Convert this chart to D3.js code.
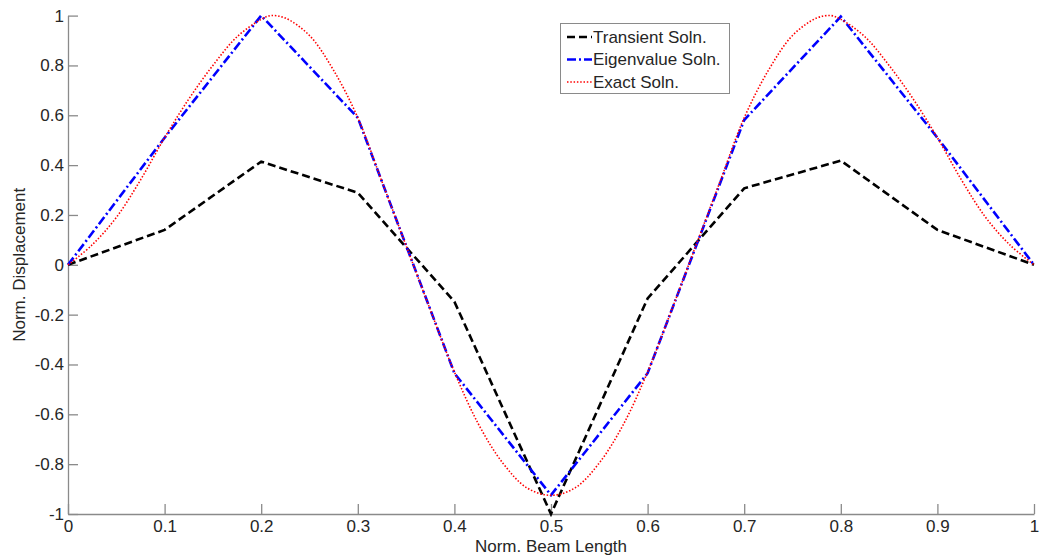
<!DOCTYPE html>
<html>
<head>
<meta charset="utf-8">
<script src="https://cdn.jsdelivr.net/npm/d3@7"></script>
<style>
  html, body { margin: 0; padding: 0; background: #fff; }
  svg { display: block; font-family: "Liberation Sans", Arial, sans-serif; }
</style>
</head>
<body>
<svg id="chart" width="1041" height="560"></svg>
<script>
// ---- data ----
const nodeX = [0, 0.1, 0.2, 0.3, 0.4, 0.5, 0.6, 0.7, 0.8, 0.9, 1.0];
const transient = [0, 0.14, 0.414, 0.289, -0.148, -1.0, -0.135, 0.307, 0.418, 0.14, 0];
const eigen = [0, 0.51, 1.0, 0.59, -0.435, -0.924, -0.435, 0.581, 0.996, 0.51, 0];
const exactX = [0, 0.025, 0.05, 0.075, 0.1, 0.125, 0.15, 0.175, 0.2, 0.21, 0.225, 0.25, 0.275, 0.3,
  0.325, 0.35, 0.375, 0.4, 0.425, 0.45, 0.475, 0.5, 0.525, 0.55, 0.575, 0.6, 0.625, 0.65, 0.675,
  0.7, 0.725, 0.75, 0.775, 0.79, 0.8, 0.825, 0.85, 0.875, 0.9, 0.925, 0.95, 0.975, 1.0];
const exactY = [0, 0.08, 0.19, 0.34, 0.51, 0.665, 0.80, 0.915, 0.985, 1.0, 0.99, 0.92, 0.78, 0.59,
  0.334, 0.077, -0.18, -0.43, -0.64, -0.795, -0.895, -0.925, -0.895, -0.795, -0.64, -0.43, -0.18, 0.077,
  0.334, 0.59, 0.78, 0.92, 0.99, 1.0, 0.985, 0.915, 0.80, 0.665, 0.51, 0.34, 0.19, 0.08, 0];
const xTicks = [0, 0.1, 0.2, 0.3, 0.4, 0.5, 0.6, 0.7, 0.8, 0.9, 1];
const yTicks = [-1, -0.8, -0.6, -0.4, -0.2, 0, 0.2, 0.4, 0.6, 0.8, 1];
const seriesNames = ["Transient Soln.", "Eigenvalue Soln.", "Exact Soln."];

// ---- layout ----
const svg = d3.select("#chart");
const mLeft = 68, mRight = 1034, mTop = 15.6, mBottom = 514;
const x = d3.scaleLinear().domain([0, 1]).range([mLeft, mRight]);
const y = d3.scaleLinear().domain([-1, 1]).range([mBottom, mTop]);

const axisColor = "#8a8a8a";
const textColor = "#262626";
const fs = 17;
const fmt = d => String(+(+d).toFixed(1));

// X axis
const gx = svg.append("g").attr("transform", `translate(0,${mBottom})`)
  .call(d3.axisBottom(x).tickValues(xTicks).tickSizeInner(-10).tickSizeOuter(0).tickPadding(6).tickFormat(fmt));
gx.select(".domain").attr("stroke", axisColor).attr("stroke-width", 1.3);
gx.selectAll(".tick line").attr("stroke", axisColor).attr("stroke-width", 1.3);
gx.selectAll(".tick text").attr("fill", textColor).attr("font-size", fs)
  .attr("font-family", "Liberation Sans, Arial, sans-serif").attr("dy", "0.72em").attr("y", 6);

// Y axis
const gy = svg.append("g").attr("transform", `translate(${mLeft},0)`)
  .call(d3.axisLeft(y).tickValues(yTicks).tickSizeInner(-10).tickSizeOuter(0).tickPadding(4).tickFormat(fmt));
gy.select(".domain").attr("stroke", axisColor).attr("stroke-width", 1.3);
gy.selectAll(".tick line").attr("stroke", axisColor).attr("stroke-width", 1.3);
gy.selectAll(".tick text").attr("fill", textColor).attr("font-size", fs)
  .attr("font-family", "Liberation Sans, Arial, sans-serif").attr("x", -4);

// Axis titles
svg.append("text").attr("x", (mLeft + mRight) / 2).attr("y", 552).attr("text-anchor", "middle")
  .attr("font-size", fs).attr("fill", textColor).text("Norm. Beam Length");
svg.append("text").attr("transform", `translate(25,${(mTop + mBottom) / 2}) rotate(-90)`)
  .attr("text-anchor", "middle").attr("font-size", fs).attr("fill", textColor).text("Norm. Displacement");

// ---- lines ----
const line = d3.line().x(d => x(d[0])).y(d => y(d[1]));
const smooth = d3.line().x(d => x(d[0])).y(d => y(d[1])).curve(d3.curveCatmullRom.alpha(0.5));

const styles = [
  { color: "#000000", width: 2.6, dash: "8,4" },
  { color: "#0000ff", width: 2.6, dash: "9,3,2,3" },
  { color: "#ff0000", width: 1.6, dash: "1.5,1.8" }
];

svg.append("path").datum(nodeX.map((v, i) => [v, transient[i]]))
  .attr("d", line).attr("fill", "none").attr("stroke", styles[0].color)
  .attr("stroke-width", styles[0].width).attr("stroke-dasharray", styles[0].dash);
svg.append("path").datum(nodeX.map((v, i) => [v, eigen[i]]))
  .attr("d", line).attr("fill", "none").attr("stroke", styles[1].color)
  .attr("stroke-width", styles[1].width).attr("stroke-dasharray", styles[1].dash);
svg.append("path").datum(exactX.map((v, i) => [v, exactY[i]]))
  .attr("d", smooth).attr("fill", "none").attr("stroke", styles[2].color)
  .attr("stroke-width", styles[2].width).attr("stroke-dasharray", styles[2].dash);

// ---- legend ----
const lg = svg.append("g");
lg.append("rect").attr("x", 560.5).attr("y", 23.5).attr("width", 169).attr("height", 70)
  .attr("fill", "#fff").attr("stroke", axisColor).attr("stroke-width", 1);
seriesNames.forEach((name, i) => {
  const yy = 37 + i * 22.5;
  lg.append("line").attr("x1", 567).attr("x2", 592).attr("y1", yy).attr("y2", yy)
    .attr("stroke", styles[i].color).attr("stroke-width", styles[i].width)
    .attr("stroke-dasharray", styles[i].dash);
  lg.append("text").attr("x", 593).attr("y", yy).attr("dy", "0.35em")
    .attr("font-size", fs).attr("fill", textColor).text(name);
});
</script>
</body>
</html>
